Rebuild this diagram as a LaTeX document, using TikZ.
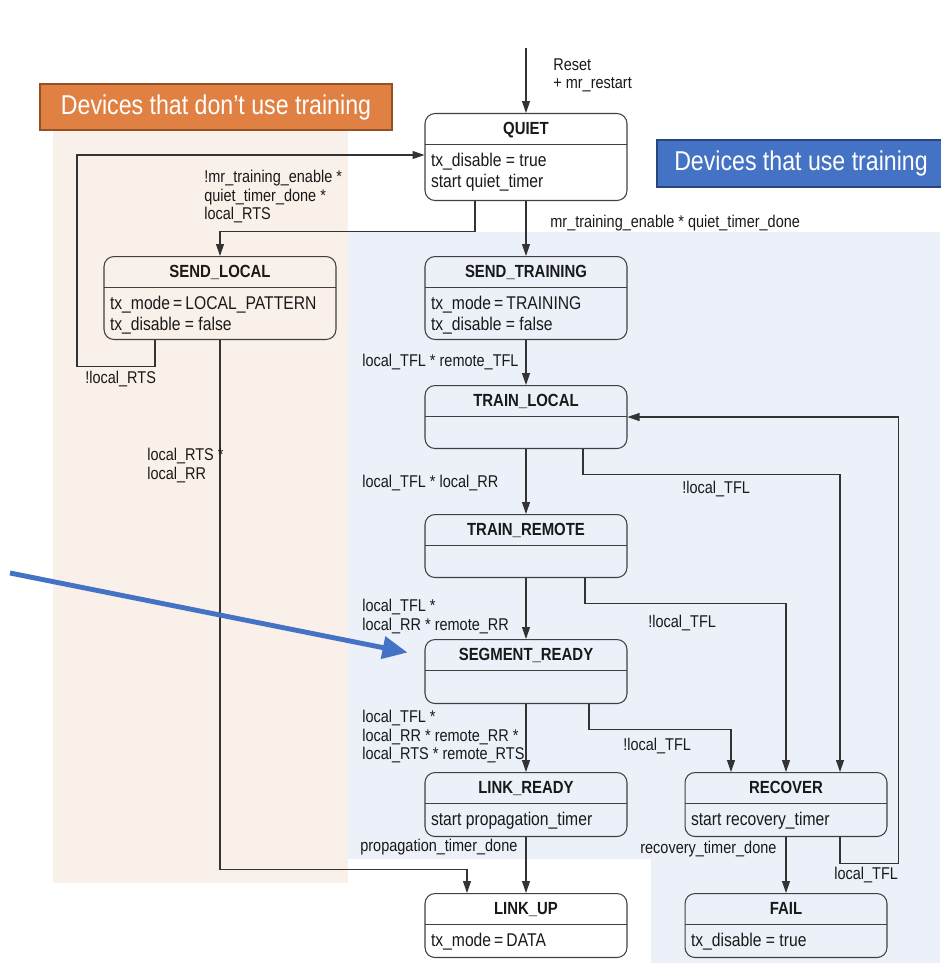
\documentclass[tikz,border=0pt]{standalone}
\usepackage{fontspec}
\setmainfont{Liberation Sans}[FakeStretch=0.85]
\usepackage{tikz}
\usetikzlibrary{arrows.meta,calc}

\definecolor{peachbg}{RGB}{250,240,234}
\definecolor{bluebg}{RGB}{236,240,248}
\definecolor{orangefill}{RGB}{224,128,66}
\definecolor{orangeline}{RGB}{150,80,35}
\definecolor{bluefill}{RGB}{68,114,196}
\definecolor{blueline}{RGB}{40,70,125}

\newcommand{\stbox}[4][3.8cm]{\parbox[c][#2][t]{#1}{\centering\rule{0pt}{0.42cm}{\fontsize{10}{12}\selectfont\textbf{#3}}\par\vspace{0.22cm}\raggedright #4}}

\begin{document}
\begin{tikzpicture}[x=0.02cm, y=-0.02cm]

\tikzstyle{statebox} = [draw=black!75, line width=0.6pt, rounded corners=0.2cm, inner sep=0pt,
  minimum width=4.04cm, anchor=north, text=black!90, font=\fontsize{10.5}{12}\selectfont,
  path picture={\draw[black!75, line width=0.6pt] ([yshift=-0.62cm]path picture bounding box.north west) -- ([yshift=-0.62cm]path picture bounding box.north east);}]
\tikzstyle{lbl} = [anchor=north west, inner sep=0pt, align=left, text=black!90, font=\fontsize{9.7}{10.5}\selectfont]
\tikzstyle{arr} = [draw=black!80, line width=0.6pt, -{Triangle[length=2.4mm, width=1.6mm]}]
\tikzstyle{banner} = [text=white, inner sep=0pt, line width=0.8pt, font=\fontsize{15.5}{18}\selectfont]

\useasboundingbox (0,0) rectangle (940,963);

% shaded areas
\fill[peachbg] (53,131) rectangle (348,883);
\fill[bluebg] (348,232) -- (940,232) -- (940,963) -- (651,963) -- (651,859) -- (348,859) -- cycle;

\node[banner, fill=orangefill, draw=orangeline, minimum width=7.04cm, minimum height=0.92cm] (notrain) at (216,107) {Devices that don’t use training};
\node[banner, fill=bluefill, draw=blueline, minimum width=5.76cm, minimum height=0.94cm] (usetrain) at (801,163.5) {Devices that use training};

\node[statebox] (quiet) at (526,113) {\stbox{1.74cm}{QUIET}{tx\_disable = true\\start quiet\_timer}};
\node[statebox, minimum width=4.64cm] (sendlocal) at (220,256) {\stbox[4.4cm]{1.66cm}{SEND\_LOCAL}{tx\_mode\,=\,LOCAL\_PATTERN\\tx\_disable = false}};
\node[statebox] (sendtrain) at (526,256) {\stbox{1.66cm}{SEND\_TRAINING}{tx\_mode\,=\,TRAINING\\tx\_disable = false}};
\node[statebox] (trainlocal) at (526,385) {\stbox{1.26cm}{TRAIN\_LOCAL}{}};
\node[statebox] (trainremote) at (526,514) {\stbox{1.26cm}{TRAIN\_REMOTE}{}};
\node[statebox] (segready) at (526,639) {\stbox{1.28cm}{SEGMENT\_READY}{}};
\node[statebox] (linkready) at (526,772) {\stbox{1.28cm}{LINK\_READY}{start propagation\_timer}};
\node[statebox] (recover) at (786,772) {\stbox{1.28cm}{RECOVER}{start recovery\_timer}};
\node[statebox] (linkup) at (526,893) {\stbox{1.28cm}{LINK\_UP}{tx\_mode\,=\,DATA}};
\node[statebox] (fail) at (786,893) {\stbox{1.28cm}{FAIL}{tx\_disable = true}};

\coordinate (reset) at (526,48);
\coordinate (rtsloop) at (77,155);

\draw[arr] (reset) -- (quiet.north);
\draw[arr] (quiet) -- (sendtrain);
\draw[arr] ($(quiet.south)+(-51,0)$) -- ++(0,30) -| (sendlocal.north);
\draw[arr] ($(sendlocal.south)+(-65,0)$) -- ++(0,26) -| (rtsloop) -- (rtsloop -| quiet.west);
\draw[arr] (sendlocal.south) -- ++(0,529) -| ($(linkup.north)+(-59,0)$);
\draw[arr] (sendtrain) -- (trainlocal);
\draw[arr] (trainlocal) -- (trainremote);
\draw[arr] ($(trainlocal.south)+(57,0)$) -- ++(0,25) -| ($(recover.north)+(54,0)$);
\draw[arr] (trainremote) -- (segready);
\draw[arr] ($(trainremote.south)+(59,0)$) -- ++(0,25) -| (recover.north);
\draw[arr] (segready) -- (linkready);
\draw[arr] ($(segready.south)+(63,0)$) -- ++(0,25) -| ($(recover.north)+(-55,0)$);
\draw[arr] (linkready) -- (linkup);
\draw[arr] (recover) -- (fail);
\draw[arr] ($(recover.south)+(54,0)$) -- ++(0,26) -| ($(trainlocal.east)+(271,0)$) -- (trainlocal.east);

\node[lbl] (resetlbl) at (553,58) {Reset\\+ mr\_restart};
\node[lbl] (tolocal) at (204,170) {!mr\_training\_enable *\\quiet\_timer\_done *\\local\_RTS};
\node[lbl] (totrain) at (550,215) {mr\_training\_enable * quiet\_timer\_done};
\node[lbl] (norts) at (85,371) {!local\_RTS};
\node[lbl] (rtsrr) at (147,448) {local\_RTS *\\local\_RR};
\node[lbl] (tfltfl) at (362,354) {local\_TFL * remote\_TFL};
\node[lbl] (tflrr) at (362,475) {local\_TFL * local\_RR};
\node[lbl] (notfla) at (682,481) {!local\_TFL};
\node[lbl] (tflrrrr) at (362,599) {local\_TFL *\\local\_RR * remote\_RR};
\node[lbl] (notflb) at (648,615) {!local\_TFL};
\node[lbl] (allready) at (362,710) {local\_TFL *\\local\_RR * remote\_RR *\\local\_RTS * remote\_RTS};
\node[lbl] (notflc) at (623,738) {!local\_TFL};
\node[lbl] (propdone) at (360,839) {propagation\_timer\_done};
\node[lbl] (recdone) at (640,841) {recovery\_timer\_done};
\node[lbl] (tflback) at (834,867) {local\_TFL};

% pointer to SEGMENT_READY
\coordinate (pointer) at (10,573);
\draw[bluefill, line width=2.8pt, -{Triangle[length=5mm, width=4.4mm]}] (pointer) -- ($(segready.west)+(-17,-19)$);

\end{tikzpicture}
\end{document}
